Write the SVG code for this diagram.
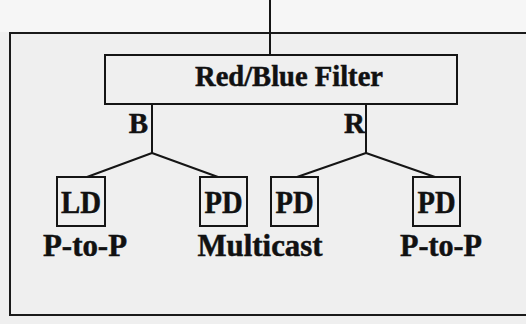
<svg xmlns="http://www.w3.org/2000/svg" width="526" height="324" viewBox="0 0 526 324">
  <style>
    .bg { fill: #efefef; }
    .frame { fill: none; stroke: #1a1a1a; stroke-width: 2; }
    .box { fill: none; stroke: #151515; stroke-width: 2; }
    .wire { fill: none; stroke: #151515; stroke-width: 2; stroke-linecap: round; stroke-linejoin: round; }
    text { font-family: "Liberation Serif", "Times New Roman", serif; font-weight: bold; fill: #111; stroke: #111; stroke-width: 0.5; text-anchor: middle; }
    .t28 { font-size: 29px; }
    .t30 { font-size: 31px; }
  </style>

  <!-- paper background -->
  <rect class="bg" x="0" y="0" width="526" height="324"/>
  <rect x="0" y="0" width="526" height="32" fill="#f6f6f6"/>

  <!-- outer enclosure (open on the right) -->
  <path class="frame" d="M526,33 H10 V315 H526"/>

  <g id="connectors">
    <line class="wire" x1="270" y1="0" x2="270" y2="55"/>
    <polyline class="wire" points="152,104 152,153 87,177"/>
    <line class="wire" x1="152" y1="153" x2="218" y2="177"/>
    <polyline class="wire" points="366,104 366,153 297,177"/>
    <line class="wire" x1="366" y1="153" x2="435" y2="177"/>
  </g>

  <g id="filter">
    <rect class="box" x="105" y="55" width="352" height="49"/>
    <text class="t28" x="289" y="86" textLength="188" lengthAdjust="spacingAndGlyphs">Red/Blue Filter</text>
  </g>

  <g id="label-b"><text class="t28" x="138.5" y="133">B</text></g>
  <g id="label-r"><text class="t28" x="354.5" y="133">R</text></g>

  <g id="ld">
    <rect class="box" x="57" y="177" width="48" height="49"/>
    <text class="t30" x="81" y="213" textLength="40" lengthAdjust="spacingAndGlyphs">LD</text>
  </g>
  <g id="pd-multicast-b">
    <rect class="box" x="200" y="177" width="47" height="49"/>
    <text class="t30" x="223.5" y="213" textLength="38" lengthAdjust="spacingAndGlyphs">PD</text>
  </g>
  <g id="pd-multicast-r">
    <rect class="box" x="271" y="177" width="47" height="49"/>
    <text class="t30" x="294.5" y="213" textLength="38" lengthAdjust="spacingAndGlyphs">PD</text>
  </g>
  <g id="pd-p2p">
    <rect class="box" x="413" y="177" width="47" height="49"/>
    <text class="t30" x="436.5" y="213" textLength="38" lengthAdjust="spacingAndGlyphs">PD</text>
  </g>

  <g id="captions">
    <text class="t30" x="85" y="256" textLength="84" lengthAdjust="spacingAndGlyphs">P-to-P</text>
    <text class="t30" x="260" y="256" textLength="125" lengthAdjust="spacingAndGlyphs">Multicast</text>
    <text class="t30" x="441" y="256" textLength="82" lengthAdjust="spacingAndGlyphs">P-to-P</text>
  </g>
</svg>
